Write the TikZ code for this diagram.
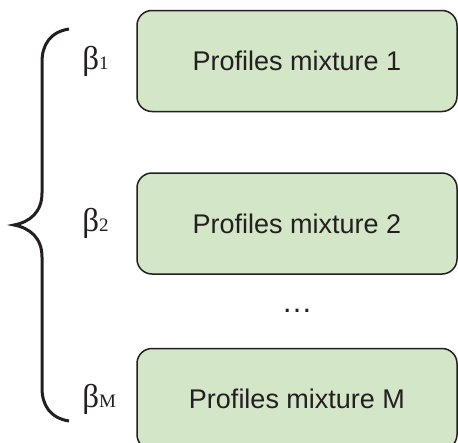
\documentclass[tikz,border=0pt]{standalone}
\usepackage{fontspec}
\setmainfont{Liberation Sans}
\newfontfamily\greekfont{Liberation Serif}
\usetikzlibrary{positioning}
\usetikzlibrary{calc}
\definecolor{boxgreen}{RGB}{211,230,199}
\definecolor{inkgray}{RGB}{35,31,32}
\tikzset{
	mixture/.style={draw=inkgray, line width=1.5pt, rectangle, rounded corners=15pt, fill=boxgreen, minimum width=320pt, minimum height=101pt, font=\fontsize{27}{32}\selectfont, text=inkgray},
	weight/.style={inner sep=0pt, font=\greekfont\fontsize{33}{36}\selectfont, text=inkgray},
	% the curly brace on the left
	brace/.style={draw=inkgray, line width=3pt},
}
\newcommand{\wsub}[1]{{\fontsize{19}{20}\selectfont #1}}

\begin{document}
\begin{tikzpicture}[x=1pt, y=-1pt]
		\useasboundingbox (0,0) rectangle (458,442);
		\node (m1) [mixture] at (297,61) {Profiles mixture 1};
		\node (m2) [mixture, below=60pt of m1] {Profiles mixture 2};
		\node (m3) [mixture, below=73pt of m2] {Profiles mixture M};
		\node (dots) [font=\fontsize{31}{36}\selectfont, text=inkgray, inner sep=0pt] at ($(m2.south)!0.5!(m3.north)$) {…};
		
		\node (w1) [weight, left=54pt of m1.west, anchor=west] {β\wsub{1}};
		\node (w2) [weight, left=54pt of m2.west, anchor=west] {β\wsub{2}};
		\node (wM) [weight, left=54pt of m3.west, anchor=west] {β\wsub{M}};
		
		\coordinate (top) at (69,29);
		\coordinate (tip) at (14,225);
		\coordinate (bot) at (69,421);
		\draw[brace] (top) .. controls (50,32) and (42,45) .. (42,62) -- (42,193)
			.. controls (42,212) and (30,222) .. (tip)
			.. controls (30,228) and (42,238) .. (42,257) -- (42,388)
			.. controls (42,405) and (50,418) .. (bot);
	\end{tikzpicture}
\end{document}
